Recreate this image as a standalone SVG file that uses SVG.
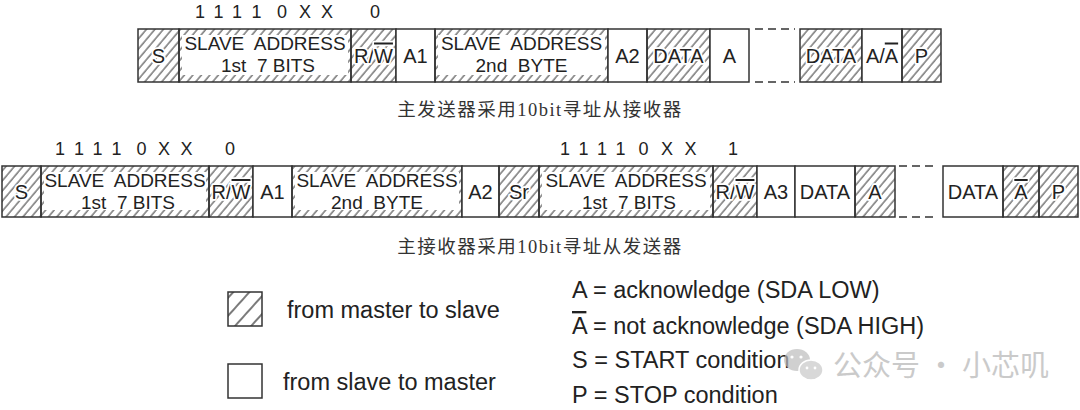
<svg xmlns="http://www.w3.org/2000/svg" width="1080" height="410" viewBox="0 0 1080 410">
<defs>
<pattern id="hatch" width="6.5" height="6.5" patternUnits="userSpaceOnUse" patternTransform="rotate(40)">
<line x1="1" y1="0" x2="1" y2="6.5" stroke="#333" stroke-width="1"/>
</pattern>
<pattern id="hatchL" width="12" height="12" patternUnits="userSpaceOnUse" patternTransform="translate(232 292) rotate(42)">
<line x1="1" y1="0" x2="1" y2="12" stroke="#333" stroke-width="1.3"/>
</pattern>
<style>
.bx{stroke:#333;stroke-width:1.5}
.h{fill:url(#hatch)}
.w{fill:#fff}
.in{fill:#fff;stroke:none}
.t{font-family:"Liberation Sans",Arial,sans-serif;font-size:20px;fill:#222;text-anchor:middle}
.sa{font-size:19px;white-space:pre}
.halo{paint-order:stroke;stroke:#fff;stroke-width:3.5px;stroke-linejoin:round}
.bits{font-family:"Liberation Sans",Arial,sans-serif;font-size:18px;fill:#222;text-anchor:middle}
.cap{font-family:"Liberation Serif","Noto Sans CJK SC",serif;font-size:18.5px;letter-spacing:1.5px;fill:#333;text-anchor:middle}
.lg{font-family:"Liberation Sans",Arial,sans-serif;font-size:23.5px;fill:#222}
.dash{stroke:#333;stroke-width:1.5;stroke-dasharray:8 5;fill:none}
.wm{font-family:"Noto Sans CJK SC",sans-serif;font-size:29px;fill:#b4b4b4}
</style>
</defs>

<!-- Row 1 -->
<g id="row1-bits">
<text class="bits" x="200 218.5 237 256.5 282 305 327" y="18">11110XX</text>
<text class="bits" x="375" y="18">0</text>
</g>
<g id="r1-S"><rect class="bx h" x="138" y="29" width="41" height="53"/><text class="t halo" x="158.5" y="62.5">S</text></g>
<g id="r1-SA1"><rect class="bx h" x="179" y="29" width="172" height="53"/><rect class="in" x="182" y="35" width="166" height="40"/><text class="t sa" x="265" y="50">SLAVE  ADDRESS</text><text class="t sa" x="268" y="72">1st  7 BITS</text></g>
<g id="r1-RW"><rect class="bx h" x="351" y="29" width="45" height="53"/><text class="t halo" x="373.5" y="62.5">R/<tspan text-decoration="overline">W</tspan></text></g>
<g id="r1-A1"><rect class="bx w" x="396" y="29" width="39" height="53"/><text class="t" x="415.5" y="62.5">A1</text></g>
<g id="r1-SA2"><rect class="bx h" x="435" y="29" width="173" height="53"/><rect class="in" x="438" y="35" width="167" height="40"/><text class="t sa" x="521.5" y="50">SLAVE  ADDRESS</text><text class="t sa" x="521.5" y="72">2nd  BYTE</text></g>
<g id="r1-A2"><rect class="bx w" x="608" y="29" width="39" height="53"/><text class="t" x="627.5" y="62.5">A2</text></g>
<g id="r1-DATA1"><rect class="bx h" x="647" y="29" width="63" height="53"/><text class="t halo" x="678.5" y="62.5">DATA</text></g>
<g id="r1-A"><rect class="bx w" x="710" y="29" width="39" height="53"/><text class="t" x="729.5" y="62.5">A</text></g>
<g id="r1-DATA2"><rect class="bx h" x="800" y="29" width="62" height="53"/><text class="t halo" x="831" y="62.5">DATA</text></g>
<g id="r1-AnA"><rect class="bx w" x="862" y="29" width="40" height="53"/><text class="t" x="882" y="62.5">A/<tspan text-decoration="overline">A</tspan></text></g>
<g id="r1-P"><rect class="bx h" x="902" y="29" width="39" height="53"/><text class="t halo" x="921.5" y="62.5">P</text></g>
<g id="caption1"><text class="cap" x="540" y="116">主发送器采用10bit寻址从接收器</text></g>

<!-- Row 2 -->
<g id="row2-bits">
<text class="bits" x="60 79 97.5 116.5 141.5 164 186.5" y="155">11110XX</text>
<text class="bits" x="230" y="155">0</text>
<text class="bits" x="565 583.5 602 620.5 643.5 667 690.5" y="155">11110XX</text>
<text class="bits" x="733" y="155">1</text>
</g>
<g id="r2-S"><rect class="bx h" x="2" y="166" width="39" height="51"/><text class="t halo" x="21.5" y="199">S</text></g>
<g id="r2-SA1"><rect class="bx h" x="41" y="166" width="168" height="51"/><rect class="in" x="44" y="172" width="162" height="38"/><text class="t sa" x="125" y="187">SLAVE  ADDRESS</text><text class="t sa" x="128" y="209">1st  7 BITS</text></g>
<g id="r2-RW1"><rect class="bx h" x="209" y="166" width="44" height="51"/><text class="t halo" x="231" y="199">R/<tspan text-decoration="overline">W</tspan></text></g>
<g id="r2-A1"><rect class="bx w" x="253" y="166" width="39" height="51"/><text class="t" x="272.5" y="199">A1</text></g>
<g id="r2-SA2"><rect class="bx h" x="292" y="166" width="170" height="51"/><rect class="in" x="295" y="172" width="164" height="38"/><text class="t sa" x="377" y="187">SLAVE  ADDRESS</text><text class="t sa" x="377" y="209">2nd  BYTE</text></g>
<g id="r2-A2"><rect class="bx w" x="462" y="166" width="37" height="51"/><text class="t" x="480.5" y="199">A2</text></g>
<g id="r2-Sr"><rect class="bx h" x="499" y="166" width="40" height="51"/><text class="t halo" x="519" y="199">Sr</text></g>
<g id="r2-SA3"><rect class="bx h" x="539" y="166" width="174" height="51"/><rect class="in" x="542" y="172" width="168" height="38"/><text class="t sa" x="626" y="187">SLAVE  ADDRESS</text><text class="t sa" x="629" y="209">1st  7 BITS</text></g>
<g id="r2-RW2"><rect class="bx h" x="713" y="166" width="44" height="51"/><text class="t halo" x="735" y="199">R/<tspan text-decoration="overline">W</tspan></text></g>
<g id="r2-A3"><rect class="bx w" x="757" y="166" width="38" height="51"/><text class="t" x="776" y="199">A3</text></g>
<g id="r2-DATA1"><rect class="bx w" x="795" y="166" width="60" height="51"/><text class="t" x="825" y="199">DATA</text></g>
<g id="r2-A"><rect class="bx h" x="855" y="166" width="40" height="51"/><text class="t halo" x="875" y="199">A</text></g>
<g id="r2-DATA2"><rect class="bx w" x="943" y="166" width="60" height="51"/><text class="t" x="973" y="199">DATA</text></g>
<g id="r2-nA"><rect class="bx h" x="1003" y="166" width="36" height="51"/><text class="t halo" x="1021" y="199"><tspan text-decoration="overline">A</tspan></text></g>
<g id="r2-P"><rect class="bx h" x="1039" y="166" width="39" height="51"/><text class="t halo" x="1058.5" y="199">P</text></g>
<g id="caption2"><text class="cap" x="540" y="253">主接收器采用10bit寻址从发送器</text></g>

<g id="connectors">
<line class="dash" x1="755" y1="29" x2="795" y2="29"/>
<line class="dash" x1="755" y1="82" x2="795" y2="82"/>
<line class="dash" x1="899" y1="166" x2="937" y2="166"/>
<line class="dash" x1="899" y1="217" x2="937" y2="217"/>
</g>

<!-- Legend -->
<g id="legend-m2s"><rect class="bx" fill="url(#hatchL)" x="228" y="292" width="34" height="34"/><text class="lg" x="287" y="318">from master to slave</text></g>
<g id="legend-s2m"><rect class="bx w" x="228" y="364" width="34" height="34"/><text class="lg" x="283" y="390">from slave to master</text></g>
<g id="legend-defs">
<text class="lg" x="572" y="298">A = acknowledge (SDA LOW)</text>
<text class="lg" x="572" y="334"><tspan text-decoration="overline">A</tspan> = not acknowledge (SDA HIGH)</text>
<text class="lg" x="572" y="368">S = START condition</text>
<text class="lg" x="572" y="403">P = STOP condition</text>
</g>

<g id="watermark" opacity="0.7">
<ellipse cx="797" cy="360" rx="13" ry="11" fill="#bdbdbd"/>
<ellipse cx="811" cy="370" rx="12" ry="10" fill="#c8c8c8" stroke="#fff" stroke-width="1.5"/>
<circle cx="792" cy="357" r="1.6" fill="#fff"/><circle cx="801" cy="357" r="1.6" fill="#fff"/>
<circle cx="807" cy="368" r="1.4" fill="#fff"/><circle cx="815" cy="368" r="1.4" fill="#fff"/>
<text class="wm" x="833" y="376">公众号 · 小芯叽</text>
</g>
</svg>
